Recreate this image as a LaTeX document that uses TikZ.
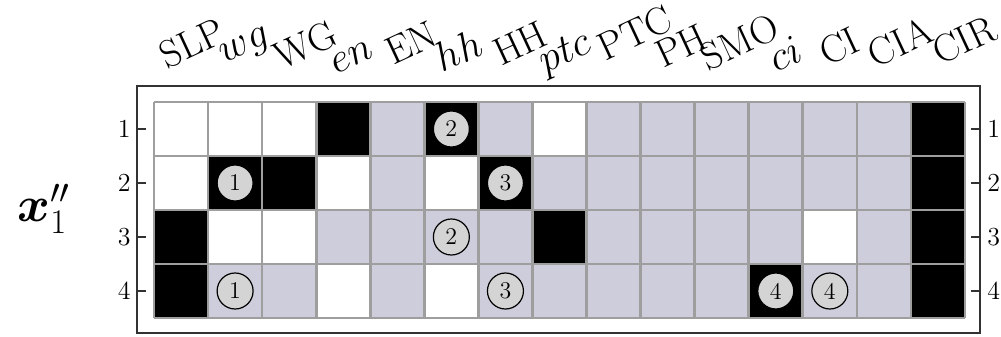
\documentclass[tikz,border=0pt]{standalone}
\usepackage{amsmath,bm}
\definecolor{colW}{RGB}{255,255,255}
\definecolor{colB}{RGB}{0,0,0}
\definecolor{colG}{RGB}{205,205,219}
\definecolor{gridgray}{RGB}{158,158,158}
\definecolor{circgray}{RGB}{212,212,212}
\definecolor{framegray}{RGB}{50,50,50}
\begin{document}
\begin{tikzpicture}[x=0.5pt,y=0.5pt,
  cell/.style={minimum width=27.033pt,minimum height=27pt,inner sep=0pt,draw=none},
  gridline/.style={draw=gridgray,line width=1.35pt},
  circnum/.style={circle,minimum size=18pt,inner sep=0pt,fill=circgray,draw=black,line width=0.6pt,font=\fontsize{12}{14}\selectfont},
  framebox/.style={draw=framegray,line width=0.8pt},
  ticklab/.style={font=\fontsize{13}{15}\selectfont,inner sep=0pt},
  collab/.style={font=\fontsize{19.5}{23}\selectfont,rotate=25,inner sep=0pt}]
\useasboundingbox (0,0) rectangle (1001,-337);
% cells
\foreach \row [count=\j] in {
  {W,W,W,B,G,B,G,W,G,G,G,G,G,G,B},
  {W,B,B,W,G,W,B,G,G,G,G,G,G,G,B},
  {B,W,W,G,G,G,G,B,G,G,G,G,W,G,B},
  {B,G,G,W,G,W,G,G,G,G,G,B,G,G,B}}{
  \foreach \c [count=\i] in \row {
    \node[cell,fill=col\c] (c\j-\i) at ({154+(\i-0.5)*54.0667},{-(102+(\j-0.5)*54)}) {};
  }
}
% grid lines
\foreach \i in {0,...,15}{
  \draw[gridline] ({154+\i*54.0667},-102) -- ({154+\i*54.0667},-318);
}
\foreach \j in {0,...,4}{
  \draw[gridline] (154,{-(102+\j*54)}) -- (965,{-(102+\j*54)});
}
% circled numbers
\node[circnum] (n12) at (c1-6) {2};
\node[circnum] (n21) at (c2-2) {1};
\node[circnum] (n23) at (c2-7) {3};
\node[circnum] (n32) at (c3-6) {2};
\node[circnum] (n41) at (c4-2) {1};
\node[circnum] (n43) at (c4-7) {3};
\node[circnum] (n44a) at (c4-12) {4};
\node[circnum] (n44b) at (c4-13) {4};
% frame
\draw[framebox] (137,-86) rectangle (980,-333);
\foreach \j/\y in {1/129,2/183,3/237,4/291}{
  \draw[framebox] (137,-\y) -- (146,-\y);
  \draw[framebox] (971,-\y) -- (980,-\y);
  \node[ticklab,anchor=east] (tl\j) at (131,-\y) {\j};
  \node[ticklab,anchor=west] (tr\j) at (987,-\y) {\j};
}
% row label
\node[inner sep=0pt,font=\fontsize{25}{29}\selectfont] (xlab) at (44,-209) {$\bm{x}''_1$};
% column labels
\node[collab] (l1) at (192,-43) {SLP};
\node[collab] (l2) at (246,-48) {$wg$};
\node[collab] (l3) at (305,-45) {WG};
\node[collab] (l4) at (352,-57) {$en$};
\node[collab] (l5) at (411,-43) {EN};
\node[collab] (l6) at (458,-50) {$hh$};
\node[collab] (l7) at (520,-43) {HH};
\node[collab] (l8) at (566,-54) {$ptc$};
\node[collab] (l9) at (635,-33) {PTC};
\node[collab] (l10) at (681,-46) {PH};
\node[collab] (l11) at (740,-42) {SMO};
\node[collab] (l12) at (785,-54) {$ci$};
\node[collab] (l13) at (839,-46) {CI};
\node[collab] (l14) at (900,-42) {CIA};
\node[collab] (l15) at (964,-40) {CIR};
\end{tikzpicture}
\end{document}
